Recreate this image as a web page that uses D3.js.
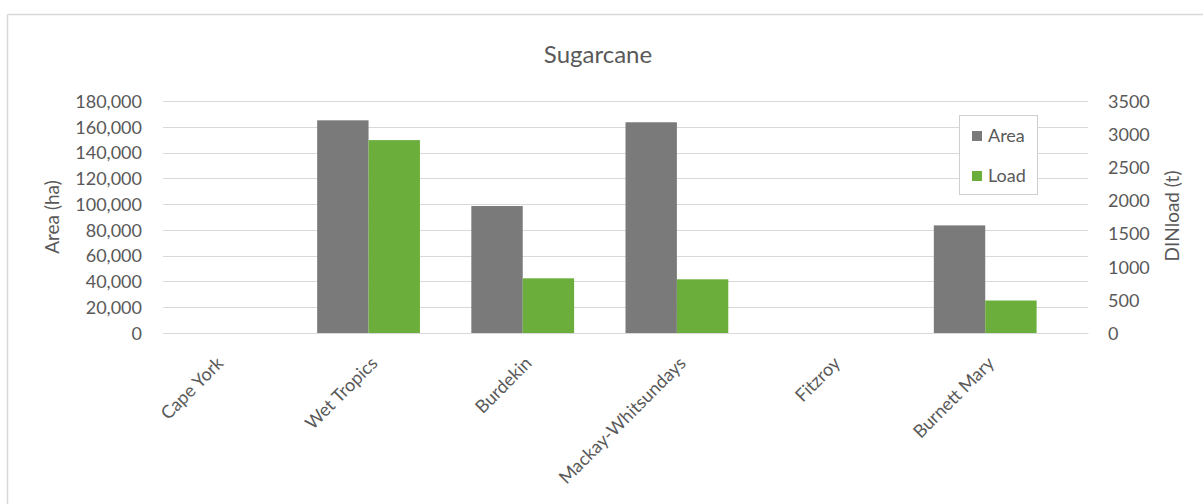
<!DOCTYPE html>
<html>
<head>
<meta charset="utf-8">
<script src="https://cdn.jsdelivr.net/npm/d3@7/dist/d3.min.js"></script>
<style>
  html, body { margin: 0; padding: 0; background: #fff; }
  svg { display: block; }
  text { font-family: Lato, "Open Sans", sans-serif; fill: #595959; }
</style>
</head>
<body>
<svg id="chart" width="1203" height="504"></svg>
<script>
// ---- data ----
const categories = ["Cape York", "Wet Tropics", "Burdekin", "Mackay-Whitsundays", "Fitzroy", "Burnett Mary"];
const areaValues = [0, 165000, 98500, 163500, 0, 83500];
const loadValues = [0, 2910, 825, 810, 0, 490];
const seriesNames = ["Area", "Load"];
const leftTicks = [0, 20000, 40000, 60000, 80000, 100000, 120000, 140000, 160000, 180000];
const rightTicks = [0, 500, 1000, 1500, 2000, 2500, 3000, 3500];
const colors = { Area: "#7a7a7a", Load: "#6cae3c" };

const svg = d3.select("#chart");
const W = 1203, H = 504;

// outer chart border (only top and left visible in crop)
svg.append("line").attr("x1", 7.5).attr("x2", W).attr("y1", 14.5).attr("y2", 14.5).attr("stroke", "#d9d9d9").attr("stroke-width", 1.5);
svg.append("line").attr("x1", 7.5).attr("x2", 7.5).attr("y1", 14.5).attr("y2", H).attr("stroke", "#d9d9d9").attr("stroke-width", 1.5);

const plot = { left: 163, right: 1088, top: 101, bottom: 333 };

const x0 = d3.scaleBand().domain(categories).range([plot.left, plot.right]).padding(0);
// three slots per category (third slot empty, as in the source chart)
const x1 = d3.scaleBand().domain([...seriesNames, "_"]).range([0, x0.bandwidth()]).padding(0);
const yL = d3.scaleLinear().domain([0, 180000]).range([plot.bottom, plot.top]);
const yR = d3.scaleLinear().domain([0, 3500]).range([plot.bottom, plot.top]);

// gridlines
svg.append("g").selectAll("line").data(leftTicks).join("line")
  .attr("x1", plot.left).attr("x2", plot.right)
  .attr("y1", d => Math.round(yL(d)) + 0.5).attr("y2", d => Math.round(yL(d)) + 0.5)
  .attr("stroke", "#d9d9d9").attr("stroke-width", 1);

// left axis
const fmt = d3.format(",");
const gL = svg.append("g").attr("transform", `translate(${plot.left - 21},0)`)
  .call(d3.axisLeft(yL).tickValues(leftTicks).tickFormat(fmt).tickSize(0).tickPadding(0));
gL.select(".domain").remove();
gL.selectAll("text").style("font-size", "18px").style("font-family", "Lato, sans-serif").attr("fill", "#595959").attr("dy", "0.35em");

// right axis
const gR = svg.append("g").attr("transform", `translate(${plot.right + 20},0)`)
  .call(d3.axisRight(yR).tickValues(rightTicks).tickSize(0).tickPadding(0).tickFormat(d3.format("d")));
gR.select(".domain").remove();
gR.selectAll("text").style("font-size", "18px").style("font-family", "Lato, sans-serif").attr("fill", "#595959").attr("dy", "0.35em");

// bars
const data = categories.map((c, i) => ({ cat: c, Area: areaValues[i], Load: loadValues[i] }));
const groups = svg.append("g").selectAll("g").data(data).join("g")
  .attr("transform", d => `translate(${x0(d.cat)},0)`);
groups.append("rect")
  .attr("x", x1("Area")).attr("width", x1.bandwidth())
  .attr("y", d => yL(d.Area)).attr("height", d => yL(0) - yL(d.Area))
  .attr("fill", colors.Area);
groups.append("rect")
  .attr("x", x1("Load")).attr("width", x1.bandwidth())
  .attr("y", d => yR(d.Load)).attr("height", d => yR(0) - yR(d.Load))
  .attr("fill", colors.Load);

// x axis
const gX = svg.append("g").attr("transform", `translate(0,${plot.bottom})`)
  .call(d3.axisBottom(x0).tickSize(0).tickPadding(0));
gX.select(".domain").attr("stroke", "#d9d9d9");
gX.selectAll("text")
  .style("font-size", "18px").style("font-family", "Lato, sans-serif").attr("fill", "#595959")
  .attr("text-anchor", "end")
  .attr("transform", "translate(-20,27) rotate(-45)")
  .attr("dy", "0.35em").attr("y", 0);

// title
svg.append("text").attr("x", 598).attr("y", 63).attr("text-anchor", "middle")
  .style("font-size", "24px").text("Sugarcane");

// axis titles
svg.append("text").attr("transform", `translate(59,217) rotate(-90)`).attr("text-anchor", "middle")
  .style("font-size", "19px").text("Area (ha)");
svg.append("text").attr("transform", `translate(1179,216) rotate(-90)`).attr("text-anchor", "middle")
  .style("font-size", "19px").text("DINload (t)");

// legend
const lg = svg.append("g");
lg.append("rect").attr("x", 959.5).attr("y", 115.5).attr("width", 78).attr("height", 79)
  .attr("fill", "#fff").attr("stroke", "#cfcfcf");
const items = lg.selectAll("g").data(seriesNames).join("g")
  .attr("transform", (d, i) => `translate(972,${136 + i * 40})`);
items.append("rect").attr("x", 0).attr("y", -5).attr("width", 10).attr("height", 10).attr("fill", d => colors[d]);
items.append("text").attr("x", 16).attr("dy", "0.35em").style("font-size", "18px").text(d => d);
</script>
</body>
</html>
